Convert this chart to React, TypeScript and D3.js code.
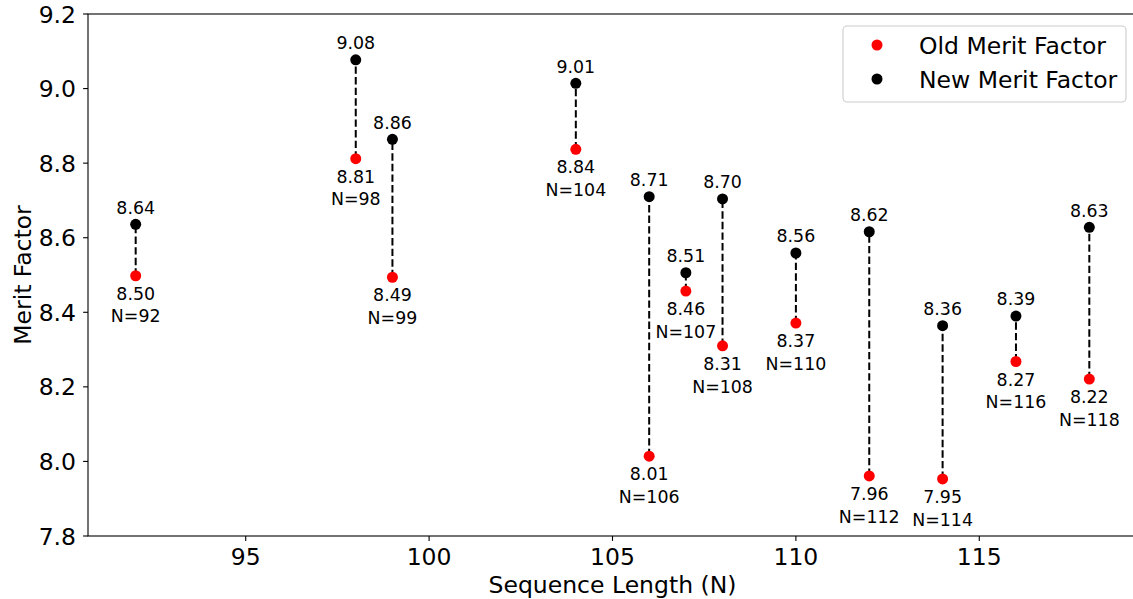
import React from "react";
import * as d3 from "d3";

const lengths = [92, 98, 99, 104, 106, 107, 108, 110, 112, 114, 116, 118];
const oldMerit = [8.498, 8.812, 8.494, 8.837, 8.014, 8.457, 8.31, 8.371, 7.961, 7.953, 8.268, 8.221];
const newMerit = [8.636, 9.077, 8.864, 9.014, 8.71, 8.506, 8.704, 8.559, 8.616, 8.364, 8.39, 8.628];
const xTicks = [95, 100, 105, 110, 115];
const yTicks = [7.8, 8.0, 8.2, 8.4, 8.6, 8.8, 9.0, 9.2];

const W = 1133;
const H = 599;
const left = 88;
const right = 1137;
const top = 14;
const bottom = 536;
const font = "'DejaVu Sans', sans-serif";
const bigFont = 23.5;
const annFont = 17.4;

export default function App() {
  const x = d3.scaleLinear().domain([90.7, 119.3]).range([left, right]);
  const y = d3.scaleLinear().domain([7.8, 9.2]).range([bottom, top]);
  return (
    <svg
      width={W}
      height={H}
      style={{ position: "absolute", left: 0, top: 0, background: "#fff" }}
      fontFamily={font}
    >
      <rect x={0} y={0} width={W} height={H} fill="#fff" />
      {lengths.map((n, i) => (
        <line
          key={"s" + n}
          x1={x(n)}
          x2={x(n)}
          y1={y(oldMerit[i])}
          y2={y(newMerit[i])}
          stroke="#000"
          strokeWidth={2}
          strokeDasharray="7.4 3.2"
        />
      ))}
      {lengths.map((n, i) => (
        <g key={"p" + n}>
          <circle cx={x(n)} cy={y(oldMerit[i])} r={5.5} fill="#ff0000" />
          <circle cx={x(n)} cy={y(newMerit[i])} r={5.5} fill="#000" />
          <text x={x(n)} y={y(newMerit[i]) - 10.6} fontSize={annFont} textAnchor="middle" fill="#000">
            {newMerit[i].toFixed(2)}
          </text>
          <text x={x(n)} y={y(oldMerit[i]) + 24} fontSize={annFont} textAnchor="middle" fill="#000">
            {oldMerit[i].toFixed(2)}
          </text>
          <text x={x(n)} y={y(oldMerit[i]) + 46.7} fontSize={annFont} textAnchor="middle" fill="#000">
            {"N=" + n}
          </text>
        </g>
      ))}
      <rect x={left} y={top} width={right - left} height={bottom - top} fill="none" stroke="#000" strokeWidth={1.1} />
      {yTicks.map((t) => (
        <g key={"y" + t}>
          <line x1={left - 4.9} x2={left} y1={y(t)} y2={y(t)} stroke="#000" strokeWidth={1.1} />
          <text x={left - 12} y={y(t) + 8.6} fontSize={bigFont} textAnchor="end" fill="#000">
            {t.toFixed(1)}
          </text>
        </g>
      ))}
      {xTicks.map((t) => (
        <g key={"x" + t}>
          <line x1={x(t)} x2={x(t)} y1={bottom} y2={bottom + 4.9} stroke="#000" strokeWidth={1.1} />
          <text x={x(t)} y={bottom + 29} fontSize={bigFont} textAnchor="middle" fill="#000">
            {t}
          </text>
        </g>
      ))}
      <text x={(left + right) / 2} y={593} fontSize={bigFont} textAnchor="middle" fill="#000">
        Sequence Length (N)
      </text>
      <text
        transform={`translate(31, ${(top + bottom) / 2}) rotate(-90)`}
        fontSize={bigFont}
        textAnchor="middle"
        fill="#000"
      >
        Merit Factor
      </text>
      <g>
        <rect x={843} y={26} width={283} height={76} rx={4} fill="#fff" fillOpacity={0.8} stroke="#cccccc" strokeWidth={1.1} />
        <circle cx={877} cy={45} r={5.5} fill="#ff0000" />
        <circle cx={877} cy={79} r={5.5} fill="#000" />
        <text x={919} y={53.6} fontSize={bigFont} fill="#000">Old Merit Factor</text>
        <text x={919} y={87.6} fontSize={bigFont} fill="#000">New Merit Factor</text>
      </g>
    </svg>
  );
}
